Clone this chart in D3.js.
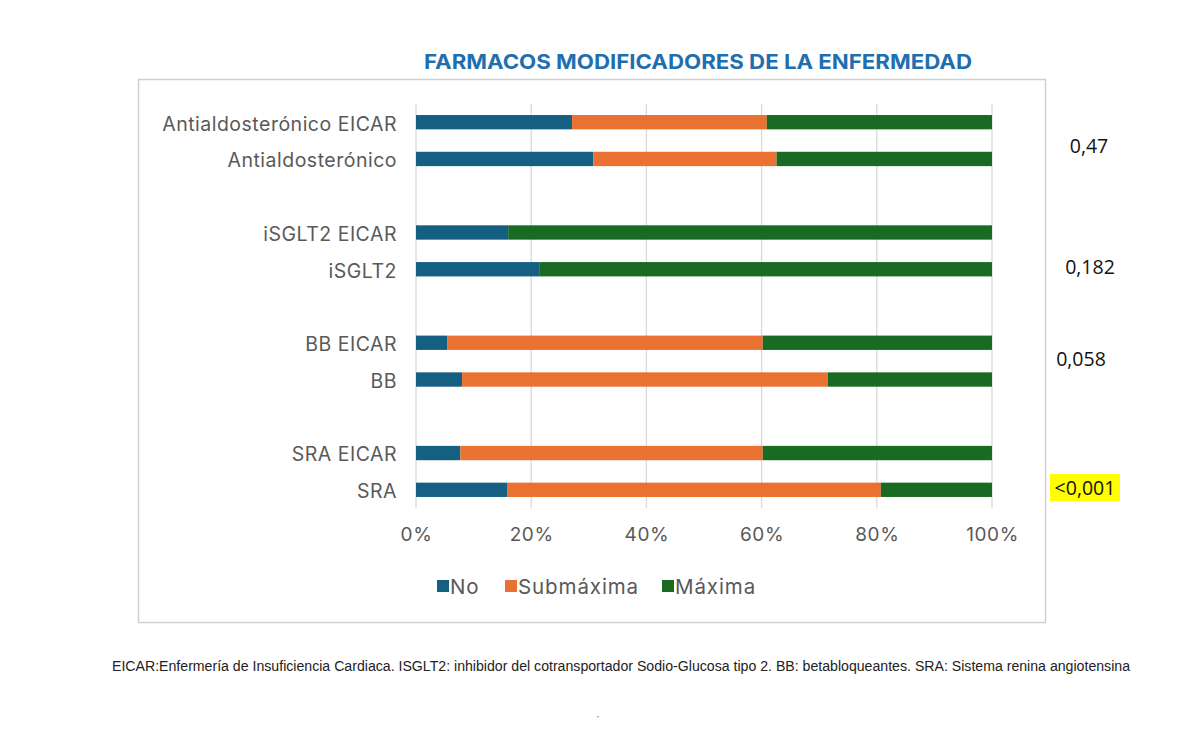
<!DOCTYPE html>
<html><head><meta charset="utf-8">
<script src="https://cdn.jsdelivr.net/npm/d3@7"></script>
<style>body{margin:0;background:#fff;} svg{display:block;}</style>
</head><body>
<svg id="chart" width="1200" height="750"></svg>
<script>
const title = "FARMACOS MODIFICADORES DE LA ENFERMEDAD";
const categories = ["Antialdosterónico EICAR","Antialdosterónico","gap1","iSGLT2 EICAR","iSGLT2","gap2","BB EICAR","BB","gap3","SRA EICAR","SRA"];
const seriesNames = ["No","Submáxima","Máxima"];
const noValues =        [27.1, 30.8, null, 16.0, 21.5, null, 5.4,  8.0, null, 7.7, 15.9];
const submaximaValues = [33.8, 31.8, null, 0.0,  0.0,  null, 54.8, 63.5, null, 52.5, 64.8];
const maximaValues =    [39.1, 37.4, null, 84.0, 78.5, null, 39.8, 28.5, null, 39.8, 19.3];
const xTicks = [0, 0.2, 0.4, 0.6, 0.8, 1.0];
const pValues = ["0,47","0,182","0,058","<0,001"];
const footnote = "EICAR:Enfermería de Insuficiencia Cardiaca. ISGLT2: inhibidor del cotransportador Sodio-Glucosa tipo 2. BB: betabloqueantes. SRA: Sistema renina angiotensina";
const colors = ["#156082","#E97132","#196B24"];

const svg = d3.select("#chart");
// frame
svg.append("rect").attr("x",138.5).attr("y",79.5).attr("width",907).attr("height",543)
  .attr("fill","#fff").attr("stroke","#d0d0d0").attr("stroke-width",1.5);

svg.append("text").attr("x",698).attr("y",69).attr("text-anchor","middle")
  .attr("font-family","Inter, 'Open Sans', sans-serif").attr("font-weight",700)
  .attr("font-size",20).attr("fill","#1F6FB0").attr("textLength",548).attr("lengthAdjust","spacingAndGlyphs").text(title);

const x = d3.scaleLinear().domain([0,1]).range([416,992]);
const y = d3.scaleBand().domain(categories).range([104,508]).paddingInner(0.61).paddingOuter(0.3);

// gridlines
svg.append("g").selectAll("line").data(xTicks).join("line")
  .attr("x1",d=>x(d)).attr("x2",d=>x(d)).attr("y1",104).attr("y2",508)
  .attr("stroke","#d9d9d9").attr("stroke-width",1.3);

const rows = categories.map((c,i)=>({cat:c, vals:[noValues[i],submaximaValues[i],maximaValues[i]]}))
  .filter(r=>r.vals[0]!==null);
const stackData = rows.map(r=>{const t=d3.sum(r.vals); return {cat:r.cat, No:r.vals[0]/t, "Submáxima":r.vals[1]/t, "Máxima":r.vals[2]/t};});
const stacked = d3.stack().keys(seriesNames)(stackData);
const bandC = y.bandwidth();
svg.append("g").selectAll("g").data(stacked).join("g").attr("fill",(d,i)=>colors[i])
  .selectAll("rect").data(d=>d).join("rect")
  .attr("x",d=>x(d[0])).attr("width",d=>x(d[1])-x(d[0]))
  .attr("y",d=>y(d.data.cat)).attr("height",bandC);

// category labels
svg.append("g").selectAll("text").data(rows).join("text")
  .attr("x",397).attr("y",d=>y(d.cat)+bandC/2+1.5).attr("dy","0.35em").attr("text-anchor","end")
  .attr("font-family","Inter, 'Open Sans', sans-serif").attr("font-size",19.5).attr("letter-spacing",0.5).attr("fill","#595959")
  .text(d=>d.cat);

// x axis labels
const xAxis = d3.axisBottom(x).tickValues(xTicks).tickFormat(d3.format(".0%")).tickSize(0).tickPadding(0);
const gx = svg.append("g").attr("transform","translate(0,527)").call(xAxis);
gx.select(".domain").remove();
gx.selectAll("text").attr("font-family","Inter, 'Open Sans', sans-serif").attr("font-size",19).attr("letter-spacing",0.6).attr("fill","#595959");

// legend
const legX = [437, 505, 662];
const leg = svg.append("g").selectAll("g").data(seriesNames).join("g")
  .attr("transform",(d,i)=>`translate(${legX[i]},586)`);
leg.append("rect").attr("x",0).attr("y",-6).attr("width",12).attr("height",12).attr("fill",(d,i)=>colors[i]);
leg.append("text").attr("x",13).attr("y",1).attr("dy","0.35em")
  .attr("font-family","Inter, 'Open Sans', sans-serif").attr("font-size",20.5).attr("letter-spacing",0.9).attr("fill","#595959").text(d=>d);

// p-values
const pPos = [[1089,146],[1090,267],[1081,359],[1085,488]];
const pg = svg.append("g");
pg.append("rect").attr("x",1050).attr("y",474).attr("width",70).attr("height",27).attr("fill","#FFFF00");
pg.selectAll("text").data(pValues).join("text")
  .attr("x",(d,i)=>pPos[i][0]).attr("y",(d,i)=>pPos[i][1]).attr("dy","0.35em").attr("text-anchor","middle")
  .attr("font-family","'Open Sans', sans-serif").attr("font-size",19.5).attr("fill","#111").text(d=>d);

svg.append("text").attr("x",112).attr("y",671).attr("font-family","'Liberation Sans Narrow','Liberation Sans', sans-serif")
  .attr("font-size",14).attr("fill","#222").attr("textLength",1018).attr("lengthAdjust","spacingAndGlyphs").text(footnote);
svg.append("text").attr("x",598).attr("y",720).attr("text-anchor","middle").attr("font-family","'Liberation Sans', sans-serif")
  .attr("font-size",10).attr("fill","#444").text("·");
</script>
</body></html>
